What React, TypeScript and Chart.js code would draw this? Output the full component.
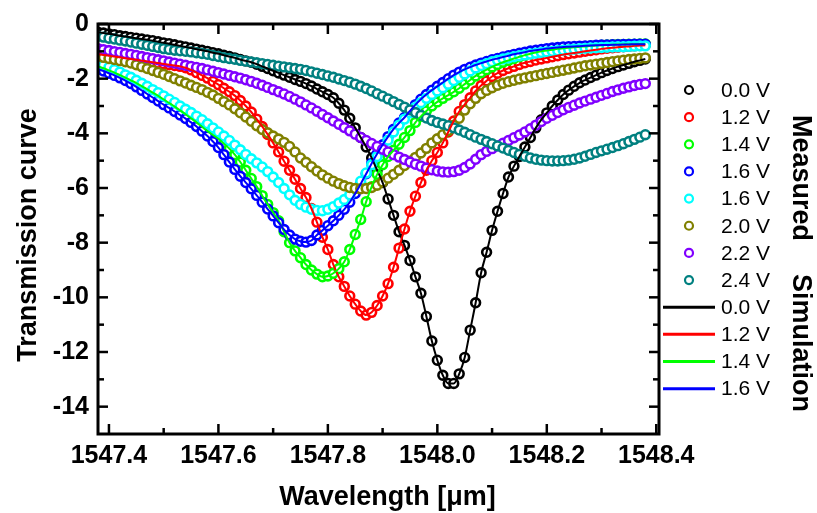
import { useEffect, useRef } from "react";
import { Chart, registerables } from "chart.js";

Chart.register(...registerables);

const FONT = '"Liberation Sans", Arial, Helvetica, sans-serif';

// Wavelength axis of the measured spectra (µm)
const wavelength = [
  1547.38, 1547.39, 1547.4, 1547.41, 1547.42, 1547.43, 1547.44, 1547.45, 1547.46, 1547.47,
  1547.48, 1547.49, 1547.5, 1547.51, 1547.52, 1547.53, 1547.54, 1547.55, 1547.56, 1547.57,
  1547.58, 1547.59, 1547.6, 1547.61, 1547.62, 1547.63, 1547.64, 1547.65, 1547.66, 1547.67,
  1547.68, 1547.69, 1547.7, 1547.71, 1547.72, 1547.73, 1547.74, 1547.75, 1547.76, 1547.77,
  1547.78, 1547.79, 1547.8, 1547.81, 1547.82, 1547.83, 1547.84, 1547.85, 1547.86, 1547.87,
  1547.88, 1547.89, 1547.9, 1547.91, 1547.92, 1547.93, 1547.94, 1547.95, 1547.96, 1547.97,
  1547.98, 1547.99, 1548.0, 1548.01, 1548.02, 1548.03, 1548.04, 1548.05, 1548.06, 1548.07,
  1548.08, 1548.09, 1548.1, 1548.11, 1548.12, 1548.13, 1548.14, 1548.15, 1548.16, 1548.17,
  1548.18, 1548.19, 1548.2, 1548.21, 1548.22, 1548.23, 1548.24, 1548.25, 1548.26, 1548.27,
  1548.28, 1548.29, 1548.3, 1548.31, 1548.32, 1548.33, 1548.34, 1548.35, 1548.36, 1548.37, 1548.38,
];

const measured00V = [
  -0.30, -0.33, -0.36, -0.39, -0.43, -0.46, -0.49, -0.52, -0.55, -0.58,
  -0.61, -0.65, -0.69, -0.72, -0.76, -0.80, -0.84, -0.88, -0.92, -0.96,
  -1.00, -1.05, -1.09, -1.14, -1.19, -1.24, -1.30, -1.35, -1.40, -1.47,
  -1.55, -1.63, -1.71, -1.79, -1.87, -1.95, -2.03, -2.10, -2.18, -2.27,
  -2.38, -2.48, -2.58, -2.70, -2.90, -3.15, -3.45, -3.80, -4.15, -4.50,
  -4.90, -5.35, -5.80, -6.40, -7.00, -7.60, -8.10, -8.65, -9.25, -9.85,
  -10.70, -11.60, -12.30, -12.85, -13.15, -13.15, -12.80, -12.20, -11.20, -10.20,
  -9.10, -8.35, -7.55, -6.85, -6.20, -5.60, -5.20, -4.85, -4.50, -4.15,
  -3.80, -3.50, -3.25, -3.00, -2.78, -2.58, -2.42, -2.28, -2.15, -2.05,
  -1.96, -1.87, -1.78, -1.70, -1.63, -1.56, -1.50, -1.44, -1.38, -1.33, -1.28,
];

const measured12V = [
  -1.10, -1.13, -1.16, -1.19, -1.22, -1.25, -1.28, -1.31, -1.34, -1.37,
  -1.40, -1.43, -1.46, -1.49, -1.52, -1.55, -1.60, -1.68, -1.78, -1.88,
  -1.98, -2.10, -2.22, -2.35, -2.48, -2.62, -2.80, -3.00, -3.22, -3.48,
  -3.75, -4.04, -4.35, -4.68, -5.02, -5.35, -5.68, -6.02, -6.35, -6.75,
  -7.25, -7.80, -8.25, -8.80, -9.25, -9.60, -9.95, -10.25, -10.50, -10.65,
  -10.55, -10.30, -9.95, -9.50, -8.90, -8.20, -7.50, -6.85, -6.30, -5.80,
  -5.35, -5.00, -4.70, -4.35, -3.95, -3.55, -3.20, -2.95, -2.70, -2.45,
  -2.25, -2.08, -1.92, -1.80, -1.70, -1.62, -1.55, -1.48, -1.42, -1.37,
  -1.32, -1.28, -1.24, -1.20, -1.16, -1.12, -1.09, -1.06, -1.03, -1.00,
  -0.97, -0.94, -0.91, -0.89, -0.87, -0.85, -0.83, -0.82, -0.80, -0.79, -0.78,
];

const measured14V = [
  -1.55, -1.62, -1.70, -1.78, -1.87, -1.96, -2.06, -2.16, -2.27, -2.39,
  -2.51, -2.63, -2.76, -2.89, -3.02, -3.16, -3.30, -3.45, -3.60, -3.76,
  -3.92, -4.06, -4.20, -4.38, -4.56, -4.78, -5.05, -5.35, -5.65, -5.95,
  -6.28, -6.60, -6.90, -7.20, -7.60, -8.00, -8.30, -8.55, -8.80, -9.00,
  -9.15, -9.25, -9.22, -9.12, -8.95, -8.70, -8.25, -7.70, -7.15, -6.50,
  -5.95, -5.50, -5.15, -4.85, -4.62, -4.40, -4.15, -3.90, -3.60, -3.38,
  -3.18, -3.00, -2.85, -2.72, -2.60, -2.48, -2.35, -2.20, -2.05, -1.90,
  -1.78, -1.67, -1.57, -1.48, -1.40, -1.33, -1.26, -1.20, -1.14, -1.09,
  -1.04, -1.00, -0.97, -0.94, -0.91, -0.89, -0.87, -0.85, -0.83, -0.82,
  -0.80, -0.79, -0.78, -0.77, -0.76, -0.75, -0.75, -0.74, -0.74, -0.73, -0.73,
];

const measured16V = [
  -1.65, -1.72, -1.80, -1.88, -1.97, -2.07, -2.18, -2.30, -2.43, -2.56,
  -2.69, -2.82, -2.95, -3.07, -3.20, -3.33, -3.46, -3.60, -3.75, -3.92,
  -4.10, -4.30, -4.52, -4.78, -5.05, -5.32, -5.57, -5.80, -6.03, -6.27,
  -6.52, -6.77, -7.02, -7.27, -7.52, -7.72, -7.87, -7.95, -7.98, -7.92,
  -7.72, -7.55, -7.38, -7.20, -7.00, -6.78, -6.52, -6.20, -5.85, -5.48,
  -5.10, -4.75, -4.42, -4.12, -3.85, -3.62, -3.42, -3.18, -2.95, -2.75,
  -2.58, -2.42, -2.28, -2.14, -2.00, -1.87, -1.76, -1.66, -1.58, -1.50,
  -1.43, -1.37, -1.31, -1.26, -1.21, -1.16, -1.11, -1.07, -1.03, -0.99,
  -0.96, -0.93, -0.90, -0.88, -0.86, -0.84, -0.83, -0.82, -0.81, -0.80,
  -0.79, -0.78, -0.77, -0.77, -0.76, -0.76, -0.75, -0.75, -0.74, -0.74, -0.74,
];

const measured16VCyan = [
  -1.42, -1.50, -1.58, -1.67, -1.76, -1.86, -1.95, -2.06, -2.17, -2.28,
  -2.40, -2.51, -2.63, -2.75, -2.87, -3.00, -3.12, -3.24, -3.37, -3.50,
  -3.65, -3.80, -3.95, -4.10, -4.26, -4.43, -4.60, -4.77, -4.93, -5.08,
  -5.23, -5.40, -5.60, -5.80, -6.02, -6.25, -6.45, -6.60, -6.70, -6.78,
  -6.82, -6.83, -6.78, -6.68, -6.55, -6.42, -6.25, -6.02, -5.75, -5.45,
  -5.15, -4.85, -4.55, -4.25, -3.95, -3.70, -3.48, -3.25, -3.05, -2.88,
  -2.72, -2.58, -2.45, -2.33, -2.20, -2.07, -1.95, -1.83, -1.72, -1.61,
  -1.52, -1.45, -1.38, -1.33, -1.28, -1.24, -1.20, -1.16, -1.13, -1.10,
  -1.07, -1.04, -1.02, -1.00, -0.98, -0.96, -0.94, -0.92, -0.90, -0.89,
  -0.88, -0.87, -0.86, -0.85, -0.84, -0.83, -0.83, -0.82, -0.81, -0.80, -0.80,
];

const measured20V = [
  -1.18, -1.22, -1.26, -1.30, -1.34, -1.38, -1.43, -1.49, -1.56, -1.63,
  -1.70, -1.77, -1.84, -1.92, -2.00, -2.08, -2.16, -2.24, -2.32, -2.40,
  -2.50, -2.60, -2.72, -2.84, -2.96, -3.10, -3.25, -3.40, -3.56, -3.72,
  -3.86, -3.98, -4.10, -4.21, -4.33, -4.48, -4.68, -4.90, -5.06, -5.22,
  -5.38, -5.52, -5.64, -5.75, -5.84, -5.92, -5.98, -6.02, -6.03, -6.02,
  -5.98, -5.90, -5.78, -5.64, -5.50, -5.35, -5.18, -5.02, -4.88, -4.72,
  -4.55, -4.35, -4.20, -4.05, -3.90, -3.70, -3.45, -3.15, -2.92, -2.72,
  -2.55, -2.43, -2.33, -2.24, -2.17, -2.11, -2.06, -2.01, -1.97, -1.93,
  -1.89, -1.85, -1.81, -1.77, -1.73, -1.69, -1.65, -1.61, -1.57, -1.53,
  -1.50, -1.47, -1.44, -1.41, -1.38, -1.35, -1.32, -1.30, -1.28, -1.26, -1.24,
];

const measured22V = [
  -0.90, -0.94, -0.97, -1.01, -1.04, -1.08, -1.11, -1.15, -1.19, -1.23,
  -1.27, -1.31, -1.35, -1.39, -1.43, -1.47, -1.51, -1.55, -1.59, -1.63,
  -1.68, -1.73, -1.78, -1.83, -1.88, -1.93, -1.98, -2.04, -2.10, -2.17,
  -2.24, -2.32, -2.40, -2.48, -2.56, -2.65, -2.75, -2.85, -2.96, -3.07,
  -3.19, -3.31, -3.43, -3.55, -3.67, -3.79, -3.91, -4.03, -4.15, -4.26,
  -4.37, -4.48, -4.58, -4.68, -4.78, -4.87, -4.96, -5.05, -5.13, -5.20,
  -5.27, -5.33, -5.38, -5.41, -5.42, -5.40, -5.35, -5.25, -5.12, -4.95,
  -4.78, -4.66, -4.56, -4.46, -4.36, -4.26, -4.16, -4.06, -3.95, -3.83,
  -3.70, -3.57, -3.45, -3.34, -3.24, -3.14, -3.05, -2.97, -2.89, -2.82,
  -2.75, -2.68, -2.61, -2.54, -2.47, -2.41, -2.35, -2.30, -2.25, -2.21, -2.18,
];

const measured24V = [
  -0.45, -0.48, -0.52, -0.55, -0.59, -0.62, -0.66, -0.70, -0.74, -0.78,
  -0.82, -0.86, -0.90, -0.93, -0.96, -0.98, -1.00, -1.02, -1.05, -1.08,
  -1.11, -1.15, -1.19, -1.23, -1.26, -1.29, -1.33, -1.36, -1.39, -1.42,
  -1.45, -1.48, -1.51, -1.54, -1.57, -1.60, -1.63, -1.66, -1.70, -1.75,
  -1.80, -1.85, -1.90, -1.95, -2.01, -2.07, -2.13, -2.20, -2.28, -2.36,
  -2.45, -2.55, -2.64, -2.74, -2.84, -2.94, -3.04, -3.14, -3.24, -3.34,
  -3.44, -3.53, -3.60, -3.66, -3.72, -3.80, -3.88, -3.96, -4.05, -4.14,
  -4.22, -4.30, -4.38, -4.46, -4.54, -4.62, -4.70, -4.77, -4.84, -4.90,
  -4.95, -4.98, -5.00, -5.01, -5.01, -5.00, -4.98, -4.95, -4.90, -4.84,
  -4.77, -4.70, -4.64, -4.58, -4.52, -4.45, -4.38, -4.30, -4.22, -4.14, -4.05,
];

// Simulated curves (they follow the measured 0.0 / 1.2 / 1.4 / 1.6 V data)
const simulation00V = measured00V;
const simulation12V = measured12V;
const simulation14V = measured14V;
const simulation16V = measured16V;

const measuredLabels = ["0.0 V", "1.2 V", "1.4 V", "1.6 V", "1.6 V", "2.0 V", "2.2 V", "2.4 V"];
const measuredColors = ["#000000", "#ff0000", "#00ff00", "#0000ff", "#00ffff", "#808000", "#8000ff", "#008080"];
const measuredSeries = [measured00V, measured12V, measured14V, measured16V, measured16VCyan, measured20V, measured22V, measured24V];

const simulationLabels = ["0.0 V", "1.2 V", "1.4 V", "1.6 V"];
const simulationColors = ["#000000", "#ff0000", "#00ff00", "#0000ff"];
const simulationSeries = [simulation00V, simulation12V, simulation14V, simulation16V];

const xMajorTicks = [1547.4, 1547.6, 1547.8, 1548.0, 1548.2, 1548.4];
const xMinorTicks = [1547.5, 1547.7, 1547.9, 1548.1, 1548.3];
const yMajorTicks = [0, -2, -4, -6, -8, -10, -12, -14];
const yMinorTicks = [-1, -3, -5, -7, -9, -11, -13];

const xTitle = "Wavelength [μm]";
const yTitle = "Transmission curve";
const measuredTitle = "Measured";
const simulationTitle = "Simulation";

const framePlugin = {
  id: "originFrame",
  afterDatasetsDraw(chart: any) {
    const { ctx, chartArea: a, scales } = chart;
    const xs = scales.x;
    const ys = scales.y;
    ctx.save();
    ctx.strokeStyle = "#000";
    ctx.lineCap = "butt";
    const seg = (x1: number, y1: number, x2: number, y2: number) => {
      ctx.beginPath();
      ctx.moveTo(x1, y1);
      ctx.lineTo(x2, y2);
      ctx.stroke();
    };
    ctx.lineWidth = 2.5;
    const major = 10;
    const minor = 6;
    xMajorTicks.forEach((v) => {
      const p = xs.getPixelForValue(v);
      seg(p, a.bottom, p, a.bottom - major);
      seg(p, a.top, p, a.top + major);
    });
    xMinorTicks.forEach((v) => {
      const p = xs.getPixelForValue(v);
      seg(p, a.bottom, p, a.bottom - minor);
      seg(p, a.top, p, a.top + minor);
    });
    yMajorTicks.forEach((v) => {
      const p = ys.getPixelForValue(v);
      seg(a.left, p, a.left + major, p);
      seg(a.right, p, a.right - major, p);
    });
    yMinorTicks.forEach((v) => {
      const p = ys.getPixelForValue(v);
      seg(a.left, p, a.left + minor, p);
      seg(a.right, p, a.right - minor, p);
    });
    ctx.lineWidth = 3;
    ctx.strokeRect(a.left, a.top, a.right - a.left, a.bottom - a.top);
    ctx.restore();
  },
  afterDraw(chart: any) {
    const { ctx, chartArea: a } = chart;
    ctx.save();
    ctx.fillStyle = "#000";
    // axis titles
    ctx.font = `bold 27px ${FONT}`;
    ctx.textAlign = "center";
    ctx.textBaseline = "alphabetic";
    ctx.fillText(xTitle, (a.left + a.right) / 2 + 9, a.bottom + 71);
    ctx.save();
    ctx.translate(a.left - 62, (a.top + a.bottom) / 2 + 6);
    ctx.rotate(-Math.PI / 2);
    ctx.fillText(yTitle, 0, 0);
    ctx.restore();

    // legend
    const rowH = 27.15;
    const row0 = 90;
    const symX = a.right + 30;
    const textX = a.right + 62;
    ctx.font = `21px ${FONT}`;
    ctx.textAlign = "left";
    ctx.textBaseline = "middle";
    measuredLabels.forEach((lab, i) => {
      const y = row0 + rowH * i;
      ctx.beginPath();
      ctx.arc(symX, y, 4, 0, Math.PI * 2);
      ctx.fillStyle = "#fff";
      ctx.fill();
      ctx.lineWidth = 2.2;
      ctx.strokeStyle = measuredColors[i];
      ctx.stroke();
      ctx.fillStyle = "#000";
      ctx.fillText(lab, textX, y + 1);
    });
    simulationLabels.forEach((lab, i) => {
      const y = row0 + rowH * (i + measuredLabels.length);
      ctx.beginPath();
      ctx.moveTo(a.right + 4, y);
      ctx.lineTo(a.right + 56, y);
      ctx.lineWidth = 3;
      ctx.strokeStyle = simulationColors[i];
      ctx.stroke();
      ctx.fillStyle = "#000";
      ctx.fillText(lab, textX, y + 1);
    });

    // rotated group titles
    ctx.font = `bold 27px ${FONT}`;
    ctx.textAlign = "center";
    ctx.textBaseline = "alphabetic";
    ctx.fillStyle = "#000";
    ctx.save();
    ctx.translate(a.right + 134, 178);
    ctx.rotate(Math.PI / 2);
    ctx.fillText(measuredTitle, 0, 0);
    ctx.restore();
    ctx.save();
    ctx.translate(a.right + 134, 343);
    ctx.rotate(Math.PI / 2);
    ctx.fillText(simulationTitle, 0, 0);
    ctx.restore();
    ctx.restore();
  },
};

export default function App() {
  const canvasRef = useRef<HTMLCanvasElement | null>(null);

  useEffect(() => {
    document.body.style.margin = "0";
    const canvas = canvasRef.current;
    if (!canvas) return;

    const measuredDatasets = measuredSeries.map((vals, i) => ({
      label: `Measured ${measuredLabels[i]}`,
      data: wavelength.map((x, k) => ({ x, y: vals[k] })),
      showLine: false,
      pointStyle: "circle",
      pointRadius: 4.4,
      pointBorderWidth: 2.6,
      pointBackgroundColor: "#ffffff",
      pointBorderColor: measuredColors[i],
      borderColor: measuredColors[i],
      backgroundColor: "#ffffff",
      order: 20 - i,
    }));
    const simulationDatasets = simulationSeries.map((vals, i) => ({
      label: `Simulation ${simulationLabels[i]}`,
      data: wavelength.map((x, k) => ({ x, y: vals[k] })),
      showLine: true,
      pointRadius: 0,
      borderWidth: 2,
      borderColor: simulationColors[i],
      backgroundColor: simulationColors[i],
      cubicInterpolationMode: "monotone",
      order: 4 - i,
    }));

    const chart = new Chart(canvas, {
      type: "scatter",
      data: { datasets: [...measuredDatasets, ...simulationDatasets] as any },
      plugins: [framePlugin],
      options: {
        animation: false,
        responsive: false,
        maintainAspectRatio: false,
        events: [],
        layout: { padding: { top: 22, right: 158, left: 0, bottom: 0 } },
        plugins: {
          legend: { display: false },
          tooltip: { enabled: false },
          title: { display: false },
        },
        scales: {
          x: {
            type: "linear",
            min: 1547.38,
            max: 1548.405,
            grid: { display: false, drawTicks: false },
            border: { display: false },
            afterBuildTicks: (s: any) => {
              s.ticks = xMajorTicks.map((v) => ({ value: v }));
            },
            afterFit: (s: any) => {
              s.height = 79;
            },
            ticks: {
              color: "#000",
              padding: 7,
              maxRotation: 0,
              autoSkip: false,
              font: { family: FONT, size: 25, weight: "bold" },
              callback: (v: any) => Number(v).toFixed(1),
            },
          },
          y: {
            type: "linear",
            min: -15,
            max: 0,
            grid: { display: false, drawTicks: false },
            border: { display: false },
            afterBuildTicks: (s: any) => {
              s.ticks = yMajorTicks.map((v) => ({ value: v }));
            },
            afterFit: (s: any) => {
              s.width = 98;
            },
            ticks: {
              color: "#000",
              padding: 9,
              autoSkip: false,
              font: { family: FONT, size: 25, weight: "bold" },
              callback: (v: any) => String(v),
            },
          },
        },
      } as any,
    });

    return () => chart.destroy();
  }, []);

  return (
    <div style={{ width: 817, height: 513, position: "relative", background: "#fff" }}>
      <canvas ref={canvasRef} width={817} height={513} style={{ display: "block" }} />
    </div>
  );
}
